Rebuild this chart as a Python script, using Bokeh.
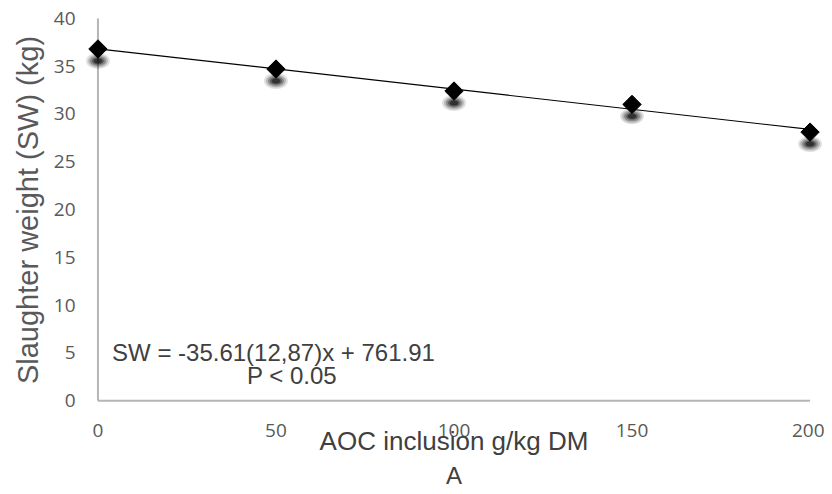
import numpy as np
from bokeh.plotting import figure
from bokeh.models import Range1d, FixedTicker, Label, Title
from bokeh.embed import file_html
from bokeh.resources import INLINE

# ---- data ----
aoc = [0, 50, 100, 150, 200]
sw = [36.8, 34.7, 32.4, 31.0, 28.1]
x_ticks = [0, 50, 100, 150, 200]
y_ticks = [0, 5, 10, 15, 20, 25, 30, 35, 40]
equation = "SW = -35.61(12,87)x + 761.91"
p_text = "P < 0.05"
x_title = "AOC inclusion g/kg DM"
panel = "A"
y_title = "Slaughter weight (SW) (kg)"

TICK_COLOR = "#595959"
TEXT_COLOR = "#404040"
AXIS_COLOR = "#b5b5b5"

p = figure(frame_width=737, frame_height=387, output_backend="svg", toolbar_location=None,
           x_range=Range1d(-3.5, 203.5), y_range=Range1d(-0.3, 40.2),
           min_border_left=85, min_border_right=2, min_border_top=16, min_border_bottom=0)
p.outline_line_color = None
p.xgrid.grid_line_color = None
p.ygrid.grid_line_color = None

for ax in (p.xaxis, p.yaxis):
    ax.axis_line_color = None
    ax.major_tick_line_color = None
    ax.minor_tick_line_color = None
    ax.major_tick_out = 0
    ax.major_tick_in = 0
    ax.major_label_text_font = "Open Sans"
    ax.major_label_text_font_size = "19px"
    ax.major_label_text_color = TICK_COLOR
p.xaxis.ticker = FixedTicker(ticks=x_ticks)
p.yaxis.ticker = FixedTicker(ticks=y_ticks)
p.xaxis.major_label_standoff = 20
p.yaxis.major_label_standoff = 10

p.xaxis.axis_label = x_title
p.xaxis.axis_label_text_font = "Liberation Sans"
p.xaxis.axis_label_text_font_size = "26px"
p.xaxis.axis_label_text_font_style = "normal"
p.xaxis.axis_label_text_color = TEXT_COLOR
p.xaxis.axis_label_standoff = -14

p.add_layout(Title(text=panel, align="center", text_font="Liberation Sans",
                   text_font_size="24px", text_font_style="normal",
                   text_color=TEXT_COLOR, standoff=2), "below")
p.add_layout(Title(text=y_title, align="center", text_font="Liberation Sans",
                   text_font_size="29px", text_font_style="normal",
                   text_color=TICK_COLOR, standoff=14), "left")

# axis lines at x=0 and y=0
p.segment(x0=[0], y0=[0], x1=[0], y1=[max(y_ticks)], line_color=AXIS_COLOR, line_width=2)
p.segment(x0=[0], y0=[0], x1=[max(x_ticks)], y1=[0], line_color=AXIS_COLOR, line_width=2)

# trend line (least squares of the points)
k, b = np.polyfit(aoc, sw, 1)
xs = [min(aoc), max(aoc)]
p.line(xs, [k * v + b for v in xs], line_color="black", line_width=1.2)

# soft shadows
shadow_y = [v - 1.25 for v in sw]
for w, h, a in [(24, 16, 0.12), (20, 13, 0.18), (16, 10, 0.25), (12, 7, 0.35), (8, 5, 0.45)]:
    p.ellipse(aoc, shadow_y, width=w, height=h, width_units="screen", height_units="screen",
              fill_color="black", fill_alpha=a, line_color=None)

# diamonds
p.scatter(aoc, sw, marker="square", angle=np.pi / 4, size=13,
          fill_color="black", line_color="black")

# equation texts
p.add_layout(Label(x=49.3, y=5.0, text=equation, text_align="center", text_baseline="alphabetic",
                   text_font="Liberation Sans", text_font_size="24px", text_color=TEXT_COLOR))
p.add_layout(Label(x=54.5, y=2.6, text=p_text, text_align="center", text_baseline="alphabetic",
                   text_font="Liberation Sans", text_font_size="24px", text_color=TEXT_COLOR))

open("out.html", "w").write(file_html(p, INLINE))
